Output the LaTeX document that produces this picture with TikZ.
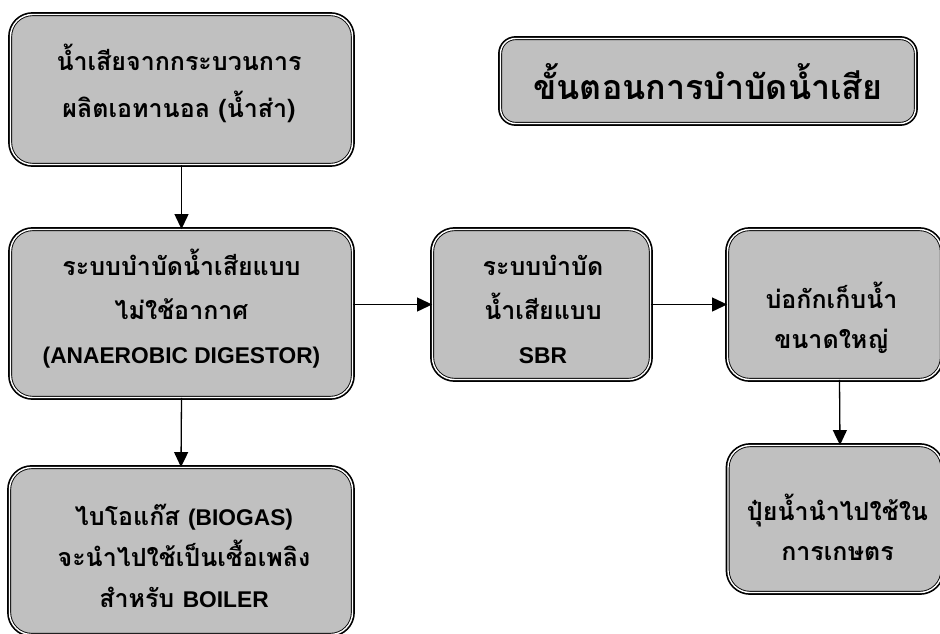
\documentclass[tikz,border=0pt]{standalone}
\usepackage{fontspec}
\setmainfont{Liberation Sans}
\newfontfamily\thaifont[Script=Thai]{Loma}
\newfontfamily\latinfont[Scale=0.91]{Liberation Sans}
\newcommand\enw[1]{{\latinfont\bfseries #1}}
\usetikzlibrary{arrows.meta}
\definecolor{boxgray}{HTML}{C0C0C0}
\tikzset{
  flowbox/.style={fill=boxgray, draw=black, double=white, double distance=1.4pt,
    line width=0.9pt, preaction={draw=black, line width=4.8pt},
    rounded corners=22pt, inner sep=0pt},
  txt/.style={align=center, inner sep=0pt,
    font=\thaifont\bfseries\fontsize{25}{#1}\selectfont},
  txt/.default=44,
  flow/.style={draw=black, line width=1.3pt, -{Triangle[length=15pt,width=14pt]}}
}
\begin{document}
\begin{tikzpicture}[x=1pt,y=-1pt]
\useasboundingbox (0,0) rectangle (940,634);
% boxes
\node[flowbox, minimum width=342pt, minimum height=150pt] (src) at (181.5,89.5) {};
\node[flowbox, rounded corners=15pt, minimum width=415pt, minimum height=85pt] (title) at (708,81) {};
\node[flowbox, minimum width=342pt, minimum height=168pt] (anaer) at (181.5,313.5) {};
\node[flowbox, minimum width=218pt, minimum height=150pt] (sbr) at (541.5,304.5) {};
\node[flowbox, minimum width=214pt, minimum height=150pt] (pond) at (834.5,304.5) {};
\node[flowbox, minimum width=214pt, minimum height=147pt] (fert) at (835,519) {};
\node[flowbox, minimum width=343pt, minimum height=167pt] (biogas) at (181,551) {};
% texts
\node[txt=47] (srct) at (179,83.5) {น้ำเสียจากกระบวนการ\\ผลิตเอทานอล (น้ำส่า)};
\node[txt, font=\thaifont\bfseries\fontsize{34}{40}\selectfont] (titlet) at (708,82) {ขั้นตอนการบำบัดน้ำเสีย};
\node[txt=44] (anaert) at (181.5,309) {ระบบบำบัดน้ำเสียแบบ\\ไม่ใช้อากาศ\\\enw{(ANAEROBIC DIGESTOR)}};
\node[txt=44] (sbrt) at (543,309) {ระบบบำบัด\\น้ำเสียแบบ\\\enw{SBR}};
\node[txt=40] (pondt) at (831.5,318) {บ่อกักเก็บน้ำ\\ขนาดใหญ่};
\node[txt=40] (fertt) at (837.5,527) {ปุ๋ยน้ำนำไปใช้ใน\\การเกษตร};
\node[txt=41] (biogast) at (184,556) {ไบโอแก๊ส \enw{(BIOGAS)}\\จะนำไปใช้เป็นเชื้อเพลิง\\สำหรับ \enw{BOILER}};
% connectors
\draw[flow] (src.south) -- (anaer.north);
\draw[flow] (anaer.south) -- (biogas.north);
\draw[flow] (anaer.east |- sbr.west) -- (sbr.west);
\draw[flow] (sbr.east) -- (pond.west);
\draw[flow] ([xshift=5pt]pond.south) -- ([xshift=5pt]fert.north);
\end{tikzpicture}
\end{document}
